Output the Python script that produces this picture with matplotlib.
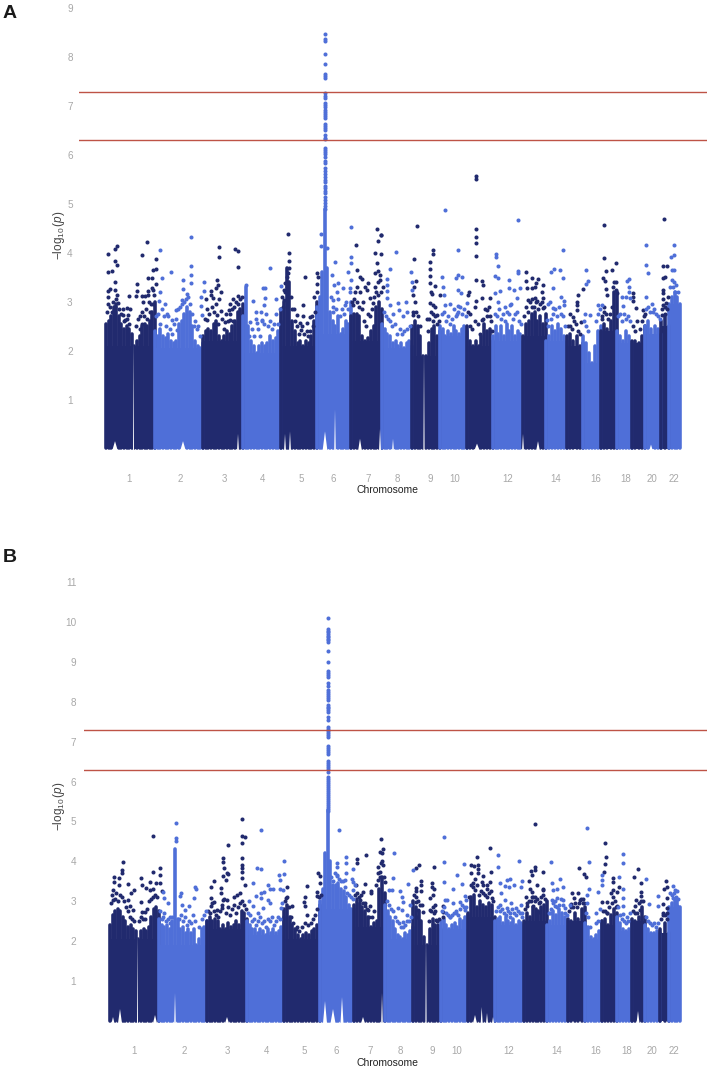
import matplotlib
matplotlib.use('Agg')
import matplotlib.pyplot as plt
import numpy as np

plt.rcParams['font.family'] = ['Liberation Sans', 'DejaVu Sans']
plt.rcParams['mathtext.fontset'] = 'custom'
plt.rcParams['mathtext.rm'] = 'Liberation Sans'
plt.rcParams['mathtext.it'] = 'Liberation Sans:italic'

dark = '#212a6e'
light = '#4f6fd8'
red = '#bb4a3c'
grey = '#a8a8a8'

chrom_labels = ['1', '2', '3', '4', '5', '6', '7', '8', '9', '10', '12', '14', '16', '18', '20', '22']

# genome position of the chromosome labels
a_label_pos = [129, 180, 224, 263, 301, 333, 368, 397, 430, 455, 508, 556, 596, 626, 652, 674]
b_label_pos = [134, 184, 227, 266, 304, 336, 370, 400, 432, 457, 509, 557, 596, 627, 652, 674]

# chromosome limits on the genome axis
a_bounds = [106, 155, 203, 243, 281, 317, 351, 382, 412, 440, 467, 493, 523, 546, 567, 583, 601, 617, 632, 645, 661, 669, 680]
b_bounds = [110, 159, 207, 247, 284, 320, 354, 385, 413, 441, 468, 495, 524, 547, 568, 585, 602, 617, 632, 645, 660, 669, 680]

# top of the dense cloud along each chromosome, -log10 p
a_tops = [
    [2.55, 2.6, 2.7, 2.9, 2.95, 2.7, 2.55, 2.45, 2.5, 2.45, 2.35, 2.1, 2.2, 2.3, 2.5, 2.55, 2.5, 2.6, 2.8, 3.0],
    [2.4, 2.3, 2.45, 2.3, 2.25, 2.35, 2.2, 2.15, 2.2, 2.55, 2.6, 2.75, 2.9, 2.8, 2.5, 2.2, 2.1, 2.05, 2.15],
    [2.3, 2.4, 2.45, 2.4, 2.55, 2.6, 2.3, 2.2, 2.3, 2.4, 2.35, 2.5, 2.6, 2.8, 2.85, 2.95],
    [2.7, 3.3, 2.5, 2.2, 2.1, 1.95, 2.1, 2.15, 2.1, 2.15, 2.3, 2.2, 2.25, 2.4, 2.6],
    [2.85, 3.0, 3.7, 3.4, 2.6, 2.4, 2.15, 2.2, 2.1, 2.2, 2.15, 2.3, 2.6, 3.0],
    [2.9, 3.1, 3.6, 4.9, 3.7, 2.8, 2.6, 2.5, 2.7, 2.35, 2.45, 2.6, 2.55, 3.0],
    [2.7, 2.75, 2.75, 2.7, 2.3, 2.2, 2.25, 2.4, 2.5, 2.9, 3.0, 2.85],
    [2.55, 2.45, 2.35, 2.3, 2.15, 2.2, 2.1, 2.15, 2.05, 2.15, 2.2, 2.1],
    [2.5, 2.6, 2.5, 2.3, 1.9, 1.9, 2.15, 2.45, 2.5, 2.3, 2.4],
    [2.5, 2.45, 2.3, 2.4, 2.35, 2.5, 2.4, 2.35, 2.45, 2.5, 2.4],
    [2.5, 2.2, 2.1, 2.2, 2.1, 2.3, 2.55, 2.4, 2.45, 2.2],
    [2.3, 2.5, 2.35, 2.5, 2.3, 2.55, 2.4, 2.5, 2.3, 2.4, 2.35, 2.2],
    [2.3, 2.55, 2.6, 2.75, 2.8, 2.6, 2.7, 2.55, 2.75],
    [2.2, 2.3, 2.5, 2.4, 2.55, 2.45, 2.3, 2.2],
    [2.3, 2.35, 2.2, 2.3, 2.1, 2.15],
    [2.3, 2.15, 1.95, 1.75, 2.1, 2.4, 2.5],
    [2.4, 2.55, 2.45, 2.6, 3.2, 3.2],
    [2.4, 2.3, 2.2, 2.4, 2.3, 2.15],
    [2.2, 2.2, 2.15, 2.3, 2.5],
    [2.5, 2.6, 2.45, 2.5, 2.45, 2.35],
    [2.6, 2.7, 2.5],
    [2.95, 3.1, 3.2, 3.1, 2.95],
]
b_tops = [
    [2.4, 2.65, 2.75, 2.8, 2.75, 2.6, 2.5, 2.35, 2.4, 2.3, 2.25, 2.05, 2.25, 2.3, 2.25, 2.35, 2.6, 2.8, 2.85, 2.75],
    [2.55, 2.4, 2.35, 2.4, 2.3, 2.5, 4.3, 2.55, 2.3, 2.35, 2.2, 2.3, 2.2, 2.3, 1.9, 2.05, 2.3, 2.35, 2.5],
    [2.5, 2.6, 2.5, 2.55, 2.5, 2.3, 2.4, 2.3, 2.45, 2.35, 2.4, 2.5, 2.4, 2.75, 2.7, 2.55],
    [2.5, 2.4, 2.3, 2.3, 2.2, 2.3, 2.25, 2.15, 2.3, 2.2, 2.3, 2.2, 2.25, 2.35, 2.6],
    [2.8, 2.9, 2.6, 2.4, 2.3, 2.15, 2.05, 2.15, 2.2, 2.15, 2.25, 2.3, 2.4, 2.9],
    [3.0, 3.3, 4.2, 5.3, 4.0, 3.4, 3.4, 3.45, 3.3, 3.25, 3.1, 2.9, 2.8, 2.8],
    [2.9, 3.05, 2.95, 2.85, 2.75, 2.6, 2.35, 2.45, 2.5, 3.3, 3.6, 3.2],
    [2.9, 2.75, 2.6, 2.5, 2.3, 2.15, 2.1, 2.05, 2.2, 2.15, 2.25, 2.35],
    [3.0, 2.85, 2.75, 2.5, 2.1, 1.9, 2.3, 2.55, 2.4, 2.4, 2.3],
    [2.5, 2.55, 2.4, 2.3, 2.4, 2.45, 2.35, 2.55, 2.5, 2.6, 2.65],
    [2.7, 3.1, 3.15, 2.85, 3.0, 2.9, 2.85, 2.95, 2.9, 2.6],
    [2.5, 2.55, 2.6, 2.45, 2.6, 2.5, 2.45, 2.55, 2.4, 2.5, 2.45, 2.4],
    [2.5, 2.7, 2.6, 2.85, 2.8, 2.75, 2.85, 2.9, 3.0],
    [2.4, 2.5, 2.75, 2.65, 2.8, 2.7, 2.6, 2.5],
    [2.55, 2.5, 2.7, 2.55, 2.8, 2.85],
    [2.45, 2.35, 2.1, 2.05, 2.15, 2.25, 2.5],
    [2.5, 2.55, 2.4, 2.65, 2.8, 2.7],
    [2.6, 2.45, 2.3, 2.25, 2.3, 2.5],
    [2.55, 2.5, 2.6, 2.85, 2.6],
    [2.4, 2.3, 2.2, 2.2, 2.25, 2.2],
    [2.3, 2.45, 2.2],
    [2.85, 2.95, 3.05, 3.0, 2.85],
]

# low density stretches near the baseline: (position, half width, height)
a_notches = [(115, 3, 0.15), (133.5, 0.5, 2.2), (183, 3, 0.15), (238, 1, 0.3), (285, 1, 0.3), (290, 1, 0.35),
             (325, 2.5, 0.35), (335, 0.8, 0.8), (360, 2, 0.2), (380, 1, 0.4), (393, 1, 0.2), (424, 0.6, 2.0),
             (477, 3, 0.1), (523, 1, 0.3), (538, 2, 0.15), (651, 2, 0.08)]
b_notches = [(113, 1.5, 0.1), (120, 2, 0.3), (137.5, 0.5, 2.2), (155, 2, 0.15), (175, 0.8, 0.7), (227, 2, 0.1),
             (325, 2, 0.5), (333, 2.5, 0.3), (342, 1.5, 0.6), (363, 2, 0.1), (382, 0.8, 0.7), (475, 2, 0.15),
             (481.7, 1, 0.35), (487, 1, 0.2), (493, 1, 0.1), (426, 0.6, 2.1), (638, 1.5, 0.25)]

# top hits of the peak on chromosome 6
a_peak_pos = 324.7
a_peak = [8.48, 8.37, 8.33, 8.06, 7.86, 7.66, 7.62, 7.57, 7.26, 7.2, 7.16, 7.06, 7.02, 6.98, 6.93, 6.88, 6.84, 6.8, 6.75,
          6.64, 6.6, 6.56, 6.51, 6.41, 6.36, 6.32, 6.14, 6.1, 6.06, 6.02, 5.97, 5.88, 5.83, 5.73, 5.68, 5.62, 5.56, 5.5, 5.46,
          5.37, 5.32, 5.27, 5.22, 5.15, 5.08, 5.02, 4.96, 4.9]
b_peak_pos = 327.5
b_peak = [10.09, 9.82, 9.78, 9.74, 9.7, 9.66, 9.62, 9.58, 9.54, 9.5, 9.28, 9.0, 8.78, 8.73, 8.68, 8.63, 8.46, 8.4, 8.3, 8.25, 8.2,
          8.15, 8.1, 8.05, 7.92, 7.88, 7.84, 7.8, 7.75, 7.63, 7.54, 7.37, 7.32, 7.27, 7.22, 7.17, 7.12, 6.9, 6.85, 6.8, 6.75, 6.7,
          6.52, 6.47, 6.42, 6.37, 6.32, 6.25, 6.12, 6.07, 6.02, 5.97, 5.92, 5.87, 5.82, 5.77, 5.72, 5.67, 5.62, 5.57, 5.52, 5.47,
          5.42, 5.37, 5.32, 5.27]

a_dark_hits = [
    (108, 3.97), (114.7, 4.07), (117.3, 4.15), (114.7, 3.83), (117.3, 3.75), (108, 3.6), (112, 3.64), (114.7, 3.41), (110, 3.27), (108, 3.22),
    (114.7, 3.24), (117.3, 3.14), (108.3, 3.09), (108.3, 2.95), (118, 2.97), (114.7, 2.89), (129.3, 3.12), (126.7, 2.87), (128.3, 2.74),
    (123.3, 2.73), (125, 2.63), (146.7, 4.23), (141.7, 3.96), (155.7, 3.88), (153.3, 3.65), (155.7, 3.68), (151.7, 3.48), (148.3, 3.48),
    (137, 3.36), (155.7, 3.36), (151.7, 3.29), (148.3, 3.23), (136.7, 3.23), (141.7, 3.12), (136, 3.12), (145, 3.12), (148.3, 3.14), (154, 3.14),
    (143.3, 3.0), (150, 2.8), (140, 2.7), (141.7, 2.8),
    (219, 4.13), (219, 3.92), (235, 4.07), (238.3, 4.04), (238, 3.71), (217.3, 3.45), (218.3, 3.34), (216, 3.28), (210.7, 3.23), (221, 3.21),
    (210.7, 3.14), (206, 3.06), (213.3, 3.08), (219.3, 3.06), (233.3, 3.06), (237.7, 3.12), (230, 2.95), (220.7, 2.82), (216.7, 2.73),
    (229.3, 2.83), (234, 2.9), (207.3, 2.63), (230, 2.63), (225, 2.59),
    (288, 4.39), (288.7, 4.0), (288.7, 3.84), (288.7, 3.69), (286.7, 3.51), (285, 3.38), (284, 3.24), (284, 3.04), (288.3, 3.58), (305, 3.51),
    (302.7, 2.93), (296.7, 2.73), (303.3, 2.7), (310, 2.68), (300, 2.56), (306.7, 2.57), (316.7, 3.58), (317.7, 3.51), (316.7, 3.36), (314, 3.1),
    (311.7, 2.7), (300.7, 2.42), (308.3, 2.3),
    (355.7, 4.17), (381, 4.37), (378.3, 4.25), (377, 4.49), (381.3, 4.37), (375, 4.0), (380.7, 3.97), (356.7, 3.66), (377.3, 3.79), (378, 3.62), (380, 3.55), (375, 3.58),
    (360, 3.51), (361.7, 3.46), (368.3, 3.38), (380, 3.45), (356.7, 3.31), (365, 3.31), (375, 3.31), (383.3, 3.31), (355, 3.21), (360, 3.21),
    (366.7, 3.24), (378.3, 3.14), (370, 3.07), (363.3, 3.0), (353.3, 2.93), (373.3, 2.97),
    (417, 4.55), (414, 3.87), (416, 3.43), (414, 3.3), (413.3, 3.14), (413.3, 2.74),
    (433.3, 4.06), (433.3, 3.97), (430, 3.81), (430, 3.67), (430, 3.53), (430, 3.38), (435, 3.32), (431, 3.21), (431.7, 3.16), (440, 3.14),
    (430, 2.98), (433.3, 2.93), (435, 2.89), (432.7, 2.76), (437.3, 2.73), (426.7, 2.64),
    (475.7, 5.57), (475.7, 5.51), (475.7, 4.49), (475.7, 4.33), (475.7, 4.21), (475.7, 3.94), (475.7, 3.45), (481.7, 3.43), (483.3, 3.34), (469, 3.21), (468.3, 3.13),
    (475.7, 3.02), (482.3, 3.07), (490, 3.08), (475, 2.9), (486.7, 2.83), (470, 2.76), (490, 2.7), (481.7, 2.63),
    (525.7, 3.6), (525.7, 3.43), (531.7, 3.48), (537.7, 3.46), (535.7, 3.38), (526.7, 3.28), (531.7, 3.28), (535, 3.31), (542.3, 3.21),
    (528.3, 3.04), (535, 3.07), (542.7, 3.07), (536.7, 3.02), (531.7, 2.9), (542.7, 2.87),
    (582.7, 3.26), (578.3, 3.13), (576.7, 3.0), (577.3, 2.93), (576.7, 2.83), (570, 2.76), (572.7, 2.68), (580.7, 2.59),
    (603.7, 4.57), (604, 3.9), (615.7, 3.8), (612.3, 3.66), (605.7, 3.63), (603.3, 3.48), (605.3, 3.43), (605.7, 3.26), (606.7, 3.14), (615.7, 3.24),
    (616.7, 3.17), (604.3, 2.8), (602.3, 2.7),
    (633.3, 3.19), (632.7, 3.1), (633.3, 3.02), (636, 2.88), (643.3, 2.83), (645, 2.76),
    (663.7, 4.69), (663.3, 3.73), (667.3, 3.73), (662.7, 3.48), (665, 3.51), (662.7, 3.24), (662.7, 3.19), (666, 2.98), (663.3, 2.93), (665, 2.76), (661.7, 2.73),
]
a_dark_cloud = [
    (107, 2.8), (110, 2.9), (112, 2.8), (113, 3.0), (116, 3.05), (119, 2.85), (121, 2.75), (123, 2.85), (124, 2.6), (127, 2.65), (129, 2.55), (130, 2.85),
    (136, 2.5), (138, 2.65), (140, 2.45), (142, 2.55), (144, 2.7), (146, 2.85), (147, 2.65), (149, 3.0), (151, 2.95), (153, 2.95), (153, 3.25),
    (205, 2.65), (207, 2.85), (209, 2.75), (212, 2.9), (214, 2.8), (216, 2.95), (218, 2.55), (222, 2.65), (224, 2.45), (226, 2.75), (228, 2.6), (230, 2.75),
    (232, 2.85), (233, 2.6), (236, 3.0), (238, 2.95), (240, 3.05), (242, 3.1),
    (282, 3.1), (283, 2.9), (285, 3.2), (287, 3.3), (291, 3.1), (292, 2.85), (294, 2.85), (295, 2.6), (297, 2.5), (299, 2.35), (302, 2.5), (304, 2.35),
    (307, 2.4), (310, 2.4), (313, 2.5), (315, 2.8), (317, 3.2),
    (352, 3.0), (354, 3.05), (357, 3.0), (359, 2.9), (362, 2.85), (364, 2.6), (366, 2.5), (368, 2.75), (370, 2.7), (372, 2.85), (374, 3.1), (376, 3.2), (378, 3.4), (381, 3.2),
    (413, 2.8), (415, 3.0), (416, 2.8), (418, 2.7), (420, 2.5), (428, 2.4), (429, 2.65), (431, 2.8), (433, 2.6), (435, 2.7), (437, 2.55), (439, 2.6),
    (468, 2.8), (470, 2.5), (472, 2.45), (475, 2.6), (478, 2.55), (480, 2.35), (483, 2.65), (485, 2.85), (487, 2.7), (489, 2.9), (491, 2.6), (492, 2.4),
    (524, 2.7), (526, 2.9), (528, 2.8), (530, 3.0), (532, 3.05), (534, 2.9), (536, 3.0), (538, 2.85), (540, 2.95), (542, 3.0), (544, 2.9), (542.5, 3.35),
    (568, 2.5), (570, 2.5), (572, 2.45), (574, 2.6), (576, 2.55), (578, 2.4), (580, 2.35),
    (602, 2.65), (604, 2.9), (606, 2.75), (608, 2.65), (610, 2.75), (612, 2.9), (614, 3.4), (616, 3.4), (613, 3.3),
    (633, 2.5), (635, 2.4), (637, 2.6), (640, 2.45), (642, 2.6), (644, 2.7),
    (662, 2.85), (663, 3.05), (665, 2.9), (667, 2.85), (668, 3.1),
]
a_light_hits = [
    (160.3, 4.05), (162.3, 3.49), (170.7, 3.6), (191.3, 4.32), (191.3, 3.74), (191.3, 3.55), (191.3, 3.38), (182.7, 3.44), (182.7, 3.27), (187.3, 3.16),
    (181.7, 3.04), (203.7, 3.41), (203.7, 3.22), (201, 3.1), (201, 2.91), (159, 3.02), (165, 2.95), (176, 2.83), (202.3, 2.72), (166.7, 2.76),
    (171.7, 2.63), (195, 2.61), (198.3, 2.5), (177.3, 2.42), (160, 3.21),
    (270, 3.69), (253, 3.02), (255.7, 2.8), (261, 2.8), (263.3, 3.28), (265.3, 3.28), (264.7, 3.08), (263.7, 2.93), (276, 3.05), (250, 2.59),
    (256.7, 2.56), (261.7, 2.63), (281, 3.33),
    (320.7, 4.38), (320.7, 4.15), (326.5, 4.1), (351, 4.54), (335, 3.81), (332.3, 3.55), (334.3, 3.34), (338.3, 3.38), (343.3, 3.28), (333.3, 3.04), (348.3, 3.6),
    (351, 3.79), (351, 3.92), (351, 3.45), (336.7, 3.21), (345, 2.93), (350, 3.28), (333.3, 2.9),
    (395.7, 4.02), (390, 3.67), (387.3, 3.47), (387.3, 3.34), (387.3, 3.23), (386.7, 3.07), (390, 2.93), (398.3, 2.97), (406, 3.0), (399.3, 2.83),
    (406.7, 2.8), (403.3, 2.7), (393.3, 2.76), (411, 3.6), (412, 3.41), (411.7, 3.24),
    (444.7, 4.87), (458.3, 4.05), (442.3, 3.51), (443.3, 3.31), (444.3, 3.14), (450, 2.95), (456, 3.49), (457.7, 3.55), (461.7, 3.51), (458.3, 3.24), (460.7, 3.19),
    (445, 2.93), (458.3, 2.91), (466.7, 2.97), (456.7, 2.76),
    (518, 4.67), (496, 3.98), (496, 3.92), (498, 3.73), (495.3, 3.53), (498, 3.49), (495.3, 3.19), (500, 3.23), (509.3, 3.45), (509.3, 3.28), (514, 3.24), (518.3, 3.64),
    (518.3, 3.58), (520, 3.28), (497.7, 3.0), (505, 2.89), (510, 2.93), (516.7, 3.07),
    (563.3, 4.05), (554, 3.68), (551, 3.6), (560, 3.65), (563.3, 3.49), (552.7, 3.29), (550, 3.0), (548.3, 2.96), (561, 3.1), (564.3, 3.02), (564.3, 2.93), (553.3, 2.87), (546.7, 2.63),
    (586, 3.65), (587.7, 3.43), (586, 3.36), (585, 2.76), (590, 2.73), (598.3, 2.93), (601.7, 2.93),
    (629, 3.47), (626.7, 3.43), (629, 3.3), (629, 3.21), (621.7, 3.09), (625.7, 3.09), (630, 3.07), (623.3, 2.91),
    (646, 4.17), (646, 3.75), (648, 3.58), (646, 3.09), (652.7, 2.8),
    (673.7, 4.17), (674, 3.95), (671, 3.91), (672, 3.66), (674, 3.66), (672.7, 3.31), (675, 3.21),
]
a_light_cloud = [
    (156, 2.7), (158, 2.75), (160, 2.55), (162, 2.85), (164, 2.7), (166, 2.5), (168, 2.7), (170, 2.45), (172, 2.35), (174, 2.55), (176, 2.65), (178, 2.85),
    (180, 2.9), (182, 2.95), (184, 3.0), (186, 3.05), (188, 3.1), (190, 2.95), (192, 2.75), (194, 2.5), (197, 2.45), (200, 2.3),
    (249, 2.3), (252, 2.45), (254, 2.3), (256, 2.65), (258, 2.45), (260, 2.3), (262, 2.6), (264, 2.55), (266, 2.75), (268, 2.5), (270, 2.6), (272, 2.45),
    (274, 2.55), (276, 2.75), (278, 2.55), (280, 2.85), (246, 3.35),
    (331, 3.1), (333, 2.8), (336, 2.85), (338, 3.05), (340, 2.7), (342, 2.85), (344, 2.75), (346, 3.0), (348, 2.85), (350, 3.2),
    (384, 2.8), (386, 2.7), (388, 2.65), (390, 2.6), (392, 2.5), (395, 2.55), (397, 2.35), (400, 2.45), (402, 2.35), (404, 2.4), (407, 2.45), (410, 2.5),
    (442, 2.75), (444, 2.8), (446, 2.6), (448, 2.7), (450, 2.55), (452, 2.65), (454, 2.85), (456, 2.7), (458, 2.8), (460, 2.9), (462, 2.75), (464, 2.85), (466, 2.7),
    (495, 2.75), (497, 2.7), (499, 2.85), (501, 2.65), (503, 2.75), (505, 2.6), (507, 2.8), (509, 2.75), (511, 2.95), (513, 2.65), (515, 2.75), (517, 2.8), (519, 2.6), (521, 2.55),
    (548, 2.5), (551, 2.65), (553, 2.75), (555, 2.85), (557, 2.7), (559, 2.9), (561, 2.75), (563, 2.7), (565, 2.5),
    (584, 2.6), (586, 2.5), (588, 2.4), (596, 2.6), (598, 2.75), (600, 2.85),
    (618, 2.7), (620, 2.75), (622, 2.6), (624, 2.75), (626, 2.65), (628, 2.7), (630, 2.6),
    (646, 2.85), (648, 2.9), (650, 2.8), (652, 2.95), (654, 2.85), (656, 2.75), (658, 2.7), (660, 2.65),
    (670, 3.3), (672, 3.45), (674, 3.4), (676, 3.35), (678, 3.2),
]
b_dark_hits = [
    (123.3, 3.98), (122.3, 3.78), (122.3, 3.7), (114, 3.62), (114, 3.49), (119.3, 3.59), (128.3, 3.43), (119, 3.41), (134, 3.28), (130.7, 3.2),
    (113.3, 3.28), (113.3, 3.02), (133.3, 2.78), (128.3, 3.03), (130, 2.87), (140.7, 3.59), (142.3, 3.41), (145.7, 3.34), (140.7, 2.97),
    (141.7, 2.74), (145, 2.74), (153.3, 3.73), (153.3, 4.64), (159.7, 3.84), (159.7, 3.66), (150, 3.49), (155.7, 3.47), (160, 3.45), (153.3, 3.32),
    (161.7, 3.26), (150, 3.28),
    (214.3, 3.52), (210.7, 3.37), (221, 3.33), (221, 3.22), (222.7, 4.09), (222.7, 3.99), (223.7, 3.83), (226.7, 3.7), (228.3, 3.68), (222.7, 3.63),
    (225.7, 3.53), (211.3, 3.09), (214, 2.97), (210.7, 2.87), (228.3, 4.42), (242, 5.05), (241.7, 4.64), (245, 4.62), (241.7, 4.45), (241.7, 4.08),
    (242, 3.91), (242, 3.83), (241.7, 3.74), (241.7, 3.58), (245, 3.41), (240, 3.2), (234, 3.12), (236.7, 3.16), (223.3, 3.03), (227.3, 3.03),
    (221.7, 2.82), (216.7, 2.78),
    (286.7, 3.35), (306.7, 3.38), (305.3, 3.1), (304, 2.99), (305, 2.87), (316.7, 3.24), (316.7, 3.13), (320.7, 3.16), (318, 3.7), (320, 3.64),
    (320, 3.47), (291.7, 2.87), (286, 3.07), (306.7, 2.66), (296.7, 2.36),
    (356.7, 4.05), (356.7, 3.97), (365.7, 4.15), (380.7, 4.55), (381.7, 4.2), (383.3, 4.3), (380, 4.24), (382.3, 4.0), (383.3, 3.91), (378.3, 3.87),
    (380, 3.74), (365, 3.43), (356, 3.4), (363.3, 3.24), (370.7, 3.26), (370.7, 3.2), (360, 3.03), (365, 2.87), (370, 2.87), (368.3, 2.78), (380, 3.62),
    (378.3, 3.53), (385, 3.49),
    (419, 3.91), (415.7, 3.83), (420.7, 3.51), (420.7, 3.41), (415.7, 3.34), (420.7, 3.26), (415.7, 3.1), (415.7, 2.99), (421.7, 2.91), (418.3, 2.78),
    (422.7, 2.74), (416.7, 2.61),
    (434.3, 3.87), (431.7, 3.45), (431.7, 3.37), (434.3, 3.3), (430, 3.07), (433.3, 3.16), (435, 2.91), (430, 2.78), (434, 2.7), (442.7, 2.87),
    (442.7, 2.74), (442.7, 2.61), (436, 2.53),
    (477.3, 4.11), (489.7, 4.34), (470.7, 3.91), (474, 3.88), (478.3, 3.91), (478.3, 3.8), (470.7, 3.7), (478.3, 3.72), (483.3, 3.64), (490.7, 3.73),
    (482.3, 3.49), (490, 3.49), (473.3, 3.47), (486.7, 3.41), (475, 3.28), (483.3, 3.2), (491.7, 3.07), (486.7, 3.1),
    (534.7, 4.94), (534.7, 3.87), (534.7, 3.78), (531, 3.76), (531.7, 3.66), (543.3, 3.74), (529.3, 3.52), (536.7, 3.41), (530, 3.32), (531.7, 3.24),
    (543.3, 3.28), (543.3, 3.16), (525.7, 3.1), (531.7, 3.1), (535, 3.1), (526.7, 2.87), (533.3, 2.87), (540, 2.99), (539.3, 2.74),
    (579, 3.83), (584, 3.68), (585.7, 3.6), (571.7, 3.2), (578.3, 3.2), (574, 3.07), (580, 3.03), (570.7, 2.92), (583.3, 2.95),
    (604.7, 4.45), (606, 4.1), (605.3, 3.93), (604.3, 3.73), (612.7, 3.58), (613.3, 3.49), (618.7, 3.37), (612.7, 3.28), (616.7, 3.24), (602.3, 2.99),
    (606.7, 2.99), (611.7, 2.95), (616.7, 2.87), (606.7, 2.7),
    (637.7, 3.8), (634, 3.62), (641, 3.45), (641, 3.24), (641, 3.13), (636, 3.03), (635, 2.87), (640, 2.78),
    (666, 3.5), (667.3, 3.37), (664.3, 3.3), (666.7, 3.07), (662.7, 2.93), (666.7, 2.82), (662.7, 2.7), (666.7, 2.7),
]
b_dark_cloud = [
    (111, 2.95), (112, 3.15), (115, 3.05), (116, 3.2), (118, 3.0), (120, 3.15), (122, 3.1), (124, 3.0), (126, 2.85), (128, 2.75), (130, 2.6), (132, 2.55), (134, 2.5),
    (139, 2.5), (141, 2.6), (143, 2.55), (145, 2.55), (147, 2.8), (149, 3.0), (151, 3.05), (153, 3.1), (155, 3.15), (157, 3.1),
    (208, 2.75), (210, 2.7), (212, 2.95), (214, 2.75), (216, 2.65), (218, 2.6), (220, 2.75), (222, 2.9), (224, 3.05), (226, 2.7), (228, 2.85), (230, 2.65),
    (232, 2.8), (234, 2.9), (236, 2.7), (238, 2.85), (240, 2.95), (242, 3.0), (244, 2.9), (246, 2.8),
    (285, 3.0), (287, 3.1), (289, 2.85), (291, 2.6), (293, 2.45), (296, 2.3), (299, 2.25), (302, 2.35), (305, 2.45), (308, 2.4), (311, 2.45), (313, 2.55), (315, 2.65), (317, 2.8), (319, 3.1),
    (355, 3.15), (357, 3.2), (359, 3.1), (361, 3.15), (363, 2.95), (365, 2.95), (367, 2.8), (369, 2.6), (372, 2.6), (374, 2.75), (376, 3.4), (378, 3.7), (381, 3.95), (384, 3.6),
    (414, 3.15), (416, 3.25), (418, 3.0), (420, 2.9), (429, 2.5), (431, 2.75), (433, 2.85), (435, 2.75), (437, 2.5), (439, 2.55),
    (469, 3.1), (471, 3.4), (473, 3.35), (475, 3.55), (477, 3.4), (479, 3.15), (481, 3.25), (483, 3.4), (485, 3.15), (487, 3.3), (489, 3.2), (491, 3.25), (493, 3.0),
    (525, 2.8), (527, 2.95), (529, 3.0), (531, 3.0), (533, 3.1), (535, 3.0), (537, 3.05), (539, 2.95), (541, 3.1), (543, 3.3), (545, 3.05),
    (569, 2.75), (571, 2.85), (573, 2.85), (575, 2.95), (577, 2.85), (579, 2.95), (581, 3.05), (583, 3.05), (584, 2.95),
    (603, 2.75), (605, 2.75), (607, 2.7), (609, 2.85), (611, 3.2), (613, 3.1), (615, 3.0), (616, 2.85),
    (633, 2.75), (635, 2.7), (637, 2.7), (639, 2.95), (641, 3.0), (643, 3.0),
    (661, 2.55), (663, 2.65), (665, 2.65), (667, 2.55),
]
b_light_hits = [
    (175.7, 4.95), (175.7, 4.58), (175.7, 4.52), (162.7, 3.24), (164, 3.07), (168.3, 2.95), (180.7, 3.2), (180, 3.13), (195, 3.35), (196, 3.31),
    (194, 3.07), (189.3, 2.87), (185, 2.78), (181.7, 2.9), (170, 2.61), (163.3, 2.61),
    (260.7, 4.79), (256.7, 3.83), (260.7, 3.8), (253.3, 3.47), (268, 3.41), (270, 3.32), (273.3, 3.32), (264, 3.24), (260.7, 3.2), (255.7, 3.13),
    (260.7, 3.07), (248.7, 3.0), (268.3, 3.02), (270, 2.96), (252.7, 2.87), (262.7, 2.82), (258.3, 2.7), (279.3, 3.66), (284, 3.68), (284, 4.01),
    (280, 3.53), (280, 3.3), (283.3, 3.28), (280.7, 2.84),
    (339, 4.79), (346, 4.1), (346, 3.95), (345.7, 3.72), (337.3, 3.95), (337.3, 3.87), (337.3, 3.63), (345, 3.53), (353.3, 3.8), (351.7, 3.55),
    (353.3, 3.49), (336.7, 3.37), (355, 3.41), (353.3, 3.28),
    (394, 4.2), (393.3, 3.58), (389.3, 3.28), (392.3, 3.28), (400, 3.26), (401.7, 3.1), (408.3, 3.43), (403.3, 2.99), (398.3, 2.82), (401.7, 2.78),
    (410, 2.91), (407.3, 2.66), (403.3, 2.49), (412.7, 3.78),
    (444.3, 4.62), (444.3, 3.98), (444.3, 3.48), (464, 3.93), (457.3, 3.67), (462.3, 3.43), (453.3, 3.3), (465, 3.13), (460, 2.99), (445, 3.02),
    (446.7, 3.02), (453.3, 2.95), (466, 3.03), (456, 2.7), (450, 2.61), (465, 2.78),
    (497.7, 4.15), (497.7, 3.85), (519.3, 4.02), (500, 3.47), (506.7, 3.53), (510, 3.55), (514.3, 3.42), (521.7, 3.51), (520.7, 3.35), (505, 3.38),
    (509.3, 3.35), (501, 3.2), (505, 3.03), (510.7, 2.95), (515.7, 2.82), (500, 2.91), (506.7, 2.82), (520.7, 2.91), (521.7, 2.7), (510, 2.7),
    (551, 3.98), (552, 3.45), (560, 3.55), (553.3, 3.28), (557.3, 3.32), (563.3, 3.35), (551.7, 3.02), (557.3, 3.07), (563.3, 3.02), (565, 2.82),
    (570, 2.91), (555, 2.87), (550, 2.7),
    (587, 4.83), (589, 3.99), (589.3, 3.31), (586.7, 3.16), (587.3, 2.95), (596, 2.71), (598.3, 3.24), (601.7, 3.66), (602.3, 3.53), (601.7, 3.41),
    (622.7, 4.18), (622.7, 3.97), (619.3, 3.62), (622.7, 3.31), (622.7, 3.07), (623.3, 2.87), (623.3, 2.68), (626.7, 2.61),
    (646.3, 3.56), (658, 3.13), (649, 2.92), (658.3, 2.87),
    (673.3, 3.39), (675, 3.28), (677.3, 3.27), (672.7, 3.07), (676.7, 2.87),
]
b_light_cloud = [
    (160, 2.75), (162, 2.55), (164, 2.7), (166, 2.5), (168, 2.55), (170, 2.45), (172, 2.6), (179, 2.55), (181, 2.65), (183, 2.5), (185, 2.6), (187, 2.4), (189, 2.5),
    (191, 2.45), (193, 2.65), (195, 2.5), (199, 2.35), (202, 2.55), (204, 2.65), (206, 2.75),
    (248, 2.7), (250, 2.65), (252, 2.5), (254, 2.55), (256, 2.4), (258, 2.5), (260, 2.6), (262, 2.45), (264, 2.5), (266, 2.35), (268, 2.55), (270, 2.5), (272, 2.6),
    (274, 2.4), (276, 2.5), (278, 2.6), (280, 2.55), (282, 2.95),
    (331, 3.6), (333, 3.5), (335, 3.7), (337, 3.65), (339, 3.55), (341, 3.5), (343, 3.5), (345, 3.35), (347, 3.2), (349, 3.15), (351, 3.1), (353, 3.05),
    (387, 3.0), (389, 2.9), (391, 2.8), (393, 2.75), (395, 2.6), (397, 2.5), (399, 2.45), (401, 2.35), (403, 2.35), (405, 2.4), (407, 2.5), (409, 2.5), (411, 2.6),
    (442, 2.75), (444, 2.85), (446, 2.7), (448, 2.65), (450, 2.6), (452, 2.65), (454, 2.7), (456, 2.75), (458, 2.65), (460, 2.8), (462, 2.9), (464, 2.85), (466, 2.85),
    (496, 2.75), (498, 2.85), (500, 2.75), (502, 2.8), (504, 2.7), (506, 2.65), (508, 2.75), (510, 2.6), (512, 2.8), (514, 2.7), (516, 2.65), (518, 2.75), (520, 2.7), (522, 2.6),
    (549, 2.7), (551, 2.8), (553, 2.95), (555, 3.0), (557, 2.85), (559, 2.9), (561, 3.05), (563, 2.9), (565, 2.7), (567, 2.65),
    (586, 2.7), (588, 2.6), (590, 2.35), (596, 2.45), (598, 2.5), (600, 2.8),
    (618, 2.85), (620, 2.65), (622, 2.55), (624, 2.5), (626, 2.45), (628, 2.5), (630, 2.7),
    (646, 2.6), (648, 2.5), (650, 2.45), (652, 2.4), (654, 2.45), (656, 2.35), (658, 2.45),
    (670, 3.2), (672, 3.15), (674, 3.2), (676, 3.1), (678, 3.05),
]
thresholds = [7.3, 6.3]


def draw_panel(left_px, top_px, bottom_px, ylim, yticks, bounds, tops, notches, peak_pos, peak, dark_pts, light_pts, label_pos, ypad):
    ax = fig.add_axes([left_px / 710, 1 - bottom_px / 1069, (707 - left_px) / 710, (bottom_px - top_px) / 1069])
    ax.set_xlim(left_px, 707)
    ax.set_ylim(ylim)
    for i, top in enumerate(tops):
        c = dark if i % 2 == 0 else light
        pos = np.linspace(bounds[i], bounds[i + 1], len(top))
        ax.fill_between([bounds[i], bounds[i + 1]], 0, min(top), color=c, lw=0, zorder=1)
        ax.vlines(pos, 0.01, top, color=c, lw=2.6, capstyle='round', zorder=1 + i * 0.01)
    ax.scatter([p[0] for p in dark_pts], [p[1] for p in dark_pts], s=8.5, color=dark, lw=0, zorder=1.5)
    ax.scatter([p[0] for p in light_pts], [p[1] for p in light_pts], s=8.5, color=light, lw=0, zorder=1.5)
    ax.scatter([peak_pos] * len(peak), peak, s=8.5, color=light, lw=0, zorder=1.6)
    for pos, hw, h in notches:
        ax.fill([pos - hw, pos, pos + hw], [-0.06, h, -0.06], color='white', lw=0, zorder=2)
    for t in thresholds:
        ax.axhline(t, color=red, lw=1.0, alpha=0.95, zorder=4)
    for s in ax.spines.values():
        s.set_visible(False)
    ax.set_yticks(yticks)
    ax.set_yticklabels([str(t) for t in yticks])
    ax.set_xticks(label_pos)
    ax.set_xticklabels(chrom_labels)
    ax.tick_params(axis='y', length=0, pad=ypad, labelsize=7.2, labelcolor=grey)
    ax.tick_params(axis='x', length=0, pad=10, labelsize=7, labelcolor=grey)
    return ax


fig = plt.figure(figsize=(7.1, 10.69), dpi=100)

draw_panel(79, 2, 460, (-0.235, 9.131), list(range(1, 10)), a_bounds, a_tops, a_notches, a_peak_pos, a_peak,
           a_dark_hits + a_dark_cloud, a_light_hits + a_light_cloud, a_label_pos, 4.5)
draw_panel(84, 575, 1032, (-0.276, 11.178), list(range(1, 12)), b_bounds, b_tops, b_notches, b_peak_pos, b_peak,
           b_dark_hits + b_dark_cloud, b_light_hits + b_light_cloud, b_label_pos, 5.5)

for label_y, ylab_y, letter, letter_y in [(490, 235, 'A', 18), (1063, 806, 'B', 562)]:
    fig.text(387 / 710, 1 - label_y / 1069, 'Chromosome', ha='center', va='center', fontsize=7.5, color='#222222')
    fig.text(59 / 710, 1 - ylab_y / 1069, r'$-\log_{10}(p)$', ha='center', va='center', rotation=90, fontsize=8.5, color='#444444')
    fig.text(3 / 710, 1 - letter_y / 1069, letter, ha='left', va='baseline', fontsize=14, fontweight='bold', color='#1a1a1a')

fig.savefig('out.png', dpi=100)
